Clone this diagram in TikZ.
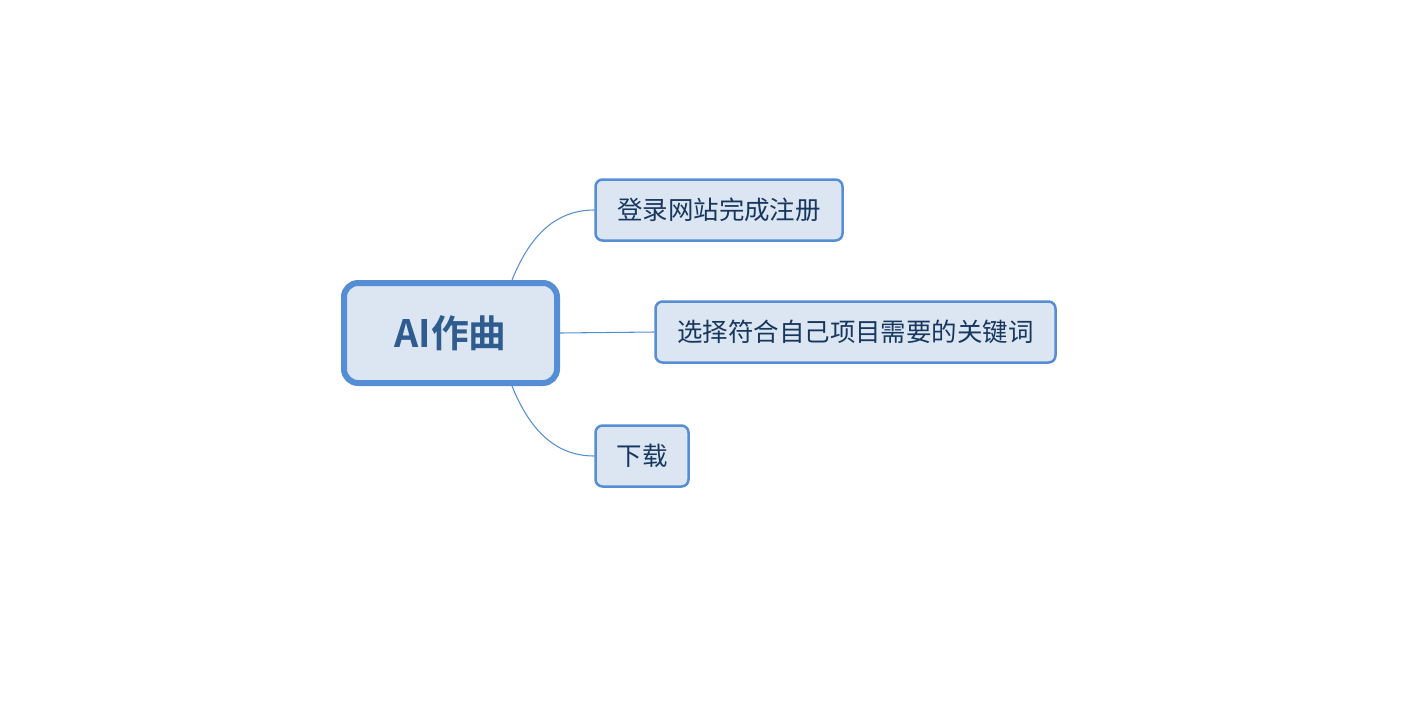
\documentclass[tikz,border=0pt]{standalone}
\usepackage{fontspec}
\setmainfont{Noto Sans CJK SC}
\newfontfamily\mmRootFont[BoldFont={Noto Sans CJK SC Bold}]{Noto Sans CJK SC}
\definecolor{mmfill}{HTML}{DCE6F2}
\definecolor{mmline}{HTML}{558ED5}
\definecolor{mmtext}{HTML}{17375E}
\definecolor{mmroottext}{HTML}{2F5C8F}
\providecommand{\mmColorBlock}{mmfill}
\providecommand{\mmStroke}{mmline}
\usetikzlibrary{calc,positioning,backgrounds}
\tikzset{
  rootblk/.style args={#1/#2}{draw=\mmStroke,rounded corners=8pt,line width=0.12cm,fill=\mmColorBlock,minimum width=#1,minimum height=#2,align=center,
    text=mmroottext,font=\mmRootFont\bfseries\fontsize{21.5}{25}\selectfont},
  sblk/.style args={#1/#2}{draw=\mmStroke,rounded corners=4pt,line width=0.05cm,fill=\mmColorBlock,minimum width=#1,minimum height=#2,align=center,
    text=mmtext,font=\fontsize{14.5}{17}\selectfont},
  conn/.style={draw=\mmStroke,line width=0.6pt},
}
\begin{document}
\begin{tikzpicture}
\useasboundingbox (0cm,0cm) rectangle (28.32cm,-14.08cm);
% --- Primitive nodes -------------------------------------------------------

  \node[rootblk=4.26cm/2.00cm] (aicomp) at (9.01cm,-6.66cm) {AI作曲};

  \node[sblk=4.94cm/1.22cm] (register) at (14.38cm,-4.20cm) {登录网站完成注册};

  \node[sblk=8.00cm/1.22cm] (keywords) at (17.11cm,-6.64cm) {选择符合自己项目需要的关键词};

  \node[sblk=1.86cm/1.22cm] (download) at (12.84cm,-9.12cm) {下载};

% --- Edges -----------------------------------------------------------------
\begin{scope}[on background layer]

  \path[conn] ([xshift=1.23cm]aicomp.north) to[out=68,in=180] (register.west);

  \path[conn] (aicomp.east) -- (keywords.west);

  \path[conn] ([xshift=1.23cm]aicomp.south) to[out=-68,in=180] (download.west);

\end{scope}
\end{tikzpicture}
\end{document}
